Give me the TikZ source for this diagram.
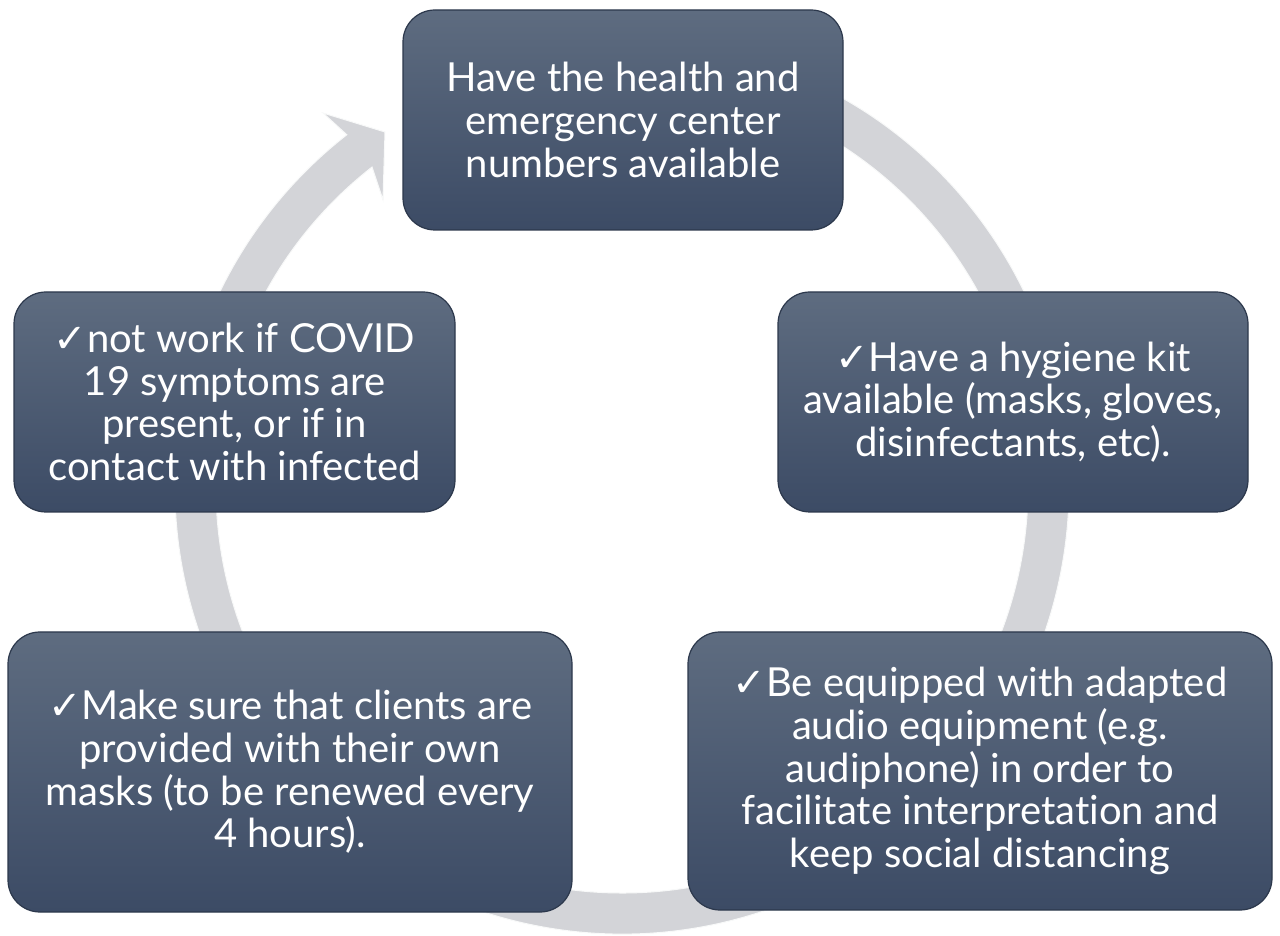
\documentclass[tikz,border=0pt]{standalone}
\usepackage{fontspec}
\setmainfont{Lato}[Ligatures=NoCommon]
\newfontfamily\symfont{DejaVu Sans}
\usetikzlibrary{calc}

\definecolor{boxtop}{RGB}{94,108,128}
\definecolor{boxbot}{RGB}{60,75,101}
\definecolor{boxrim}{RGB}{44,56,76}
\definecolor{ringgray}{RGB}{211,212,216}

\newcommand{\tick}{{\symfont\fontsize{40}{42}\selectfont ✓}}

\tikzset{
  card/.style={draw=boxrim,line width=1.2pt,rounded corners=32pt,
    top color=boxtop,bottom color=boxbot,text=white,align=center,
    font=\fontsize{40}{42.7}\selectfont,inner sep=0pt},
  ring/.style={fill=ringgray,draw=white!85!ringgray,line width=1pt}
}

\begin{document}
\begin{tikzpicture}[x=1pt,y=1pt]
\useasboundingbox (0,0) rectangle (1280,935);
\coordinate (c) at (622,448);

% circular arrow behind the boxes
\path[ring] ($(c)+(75:447)$) arc[start angle=75,end angle=-232,radius=447]
  -- (323,822) -- (385,803) -- (383,735)
  -- ($(c)+(128:406)$) arc[start angle=128,end angle=435,radius=406] -- cycle;

\node[card,minimum width=440pt,minimum height=220pt] (health) at (623,815)
  {Have the health and\\emergency center\\numbers available};
\node[card,minimum width=470pt,minimum height=220pt] (hygiene) at (1013,533)
  {\tick Have a hygiene kit\\available (masks, gloves,\\disinfectants, etc).};
\node[card,minimum width=584pt,minimum height=278pt] (audio) at (980,164)
  {\tick Be equipped with adapted\\audio equipment (e.g.\\audiphone) in order to\\facilitate interpretation and\\keep social distancing};
\node[card,minimum width=564pt,minimum height=280pt] (masks) at (290,163)
  {\tick Make sure that clients are\\provided with their own\\masks (to be renewed every\\4 hours).};
\node[card,minimum width=441pt,minimum height=220pt] (symptoms) at (234.5,533)
  {\tick not work if COVID\\19 symptoms are\\present, or if in\\contact with infected};
\end{tikzpicture}
\end{document}
